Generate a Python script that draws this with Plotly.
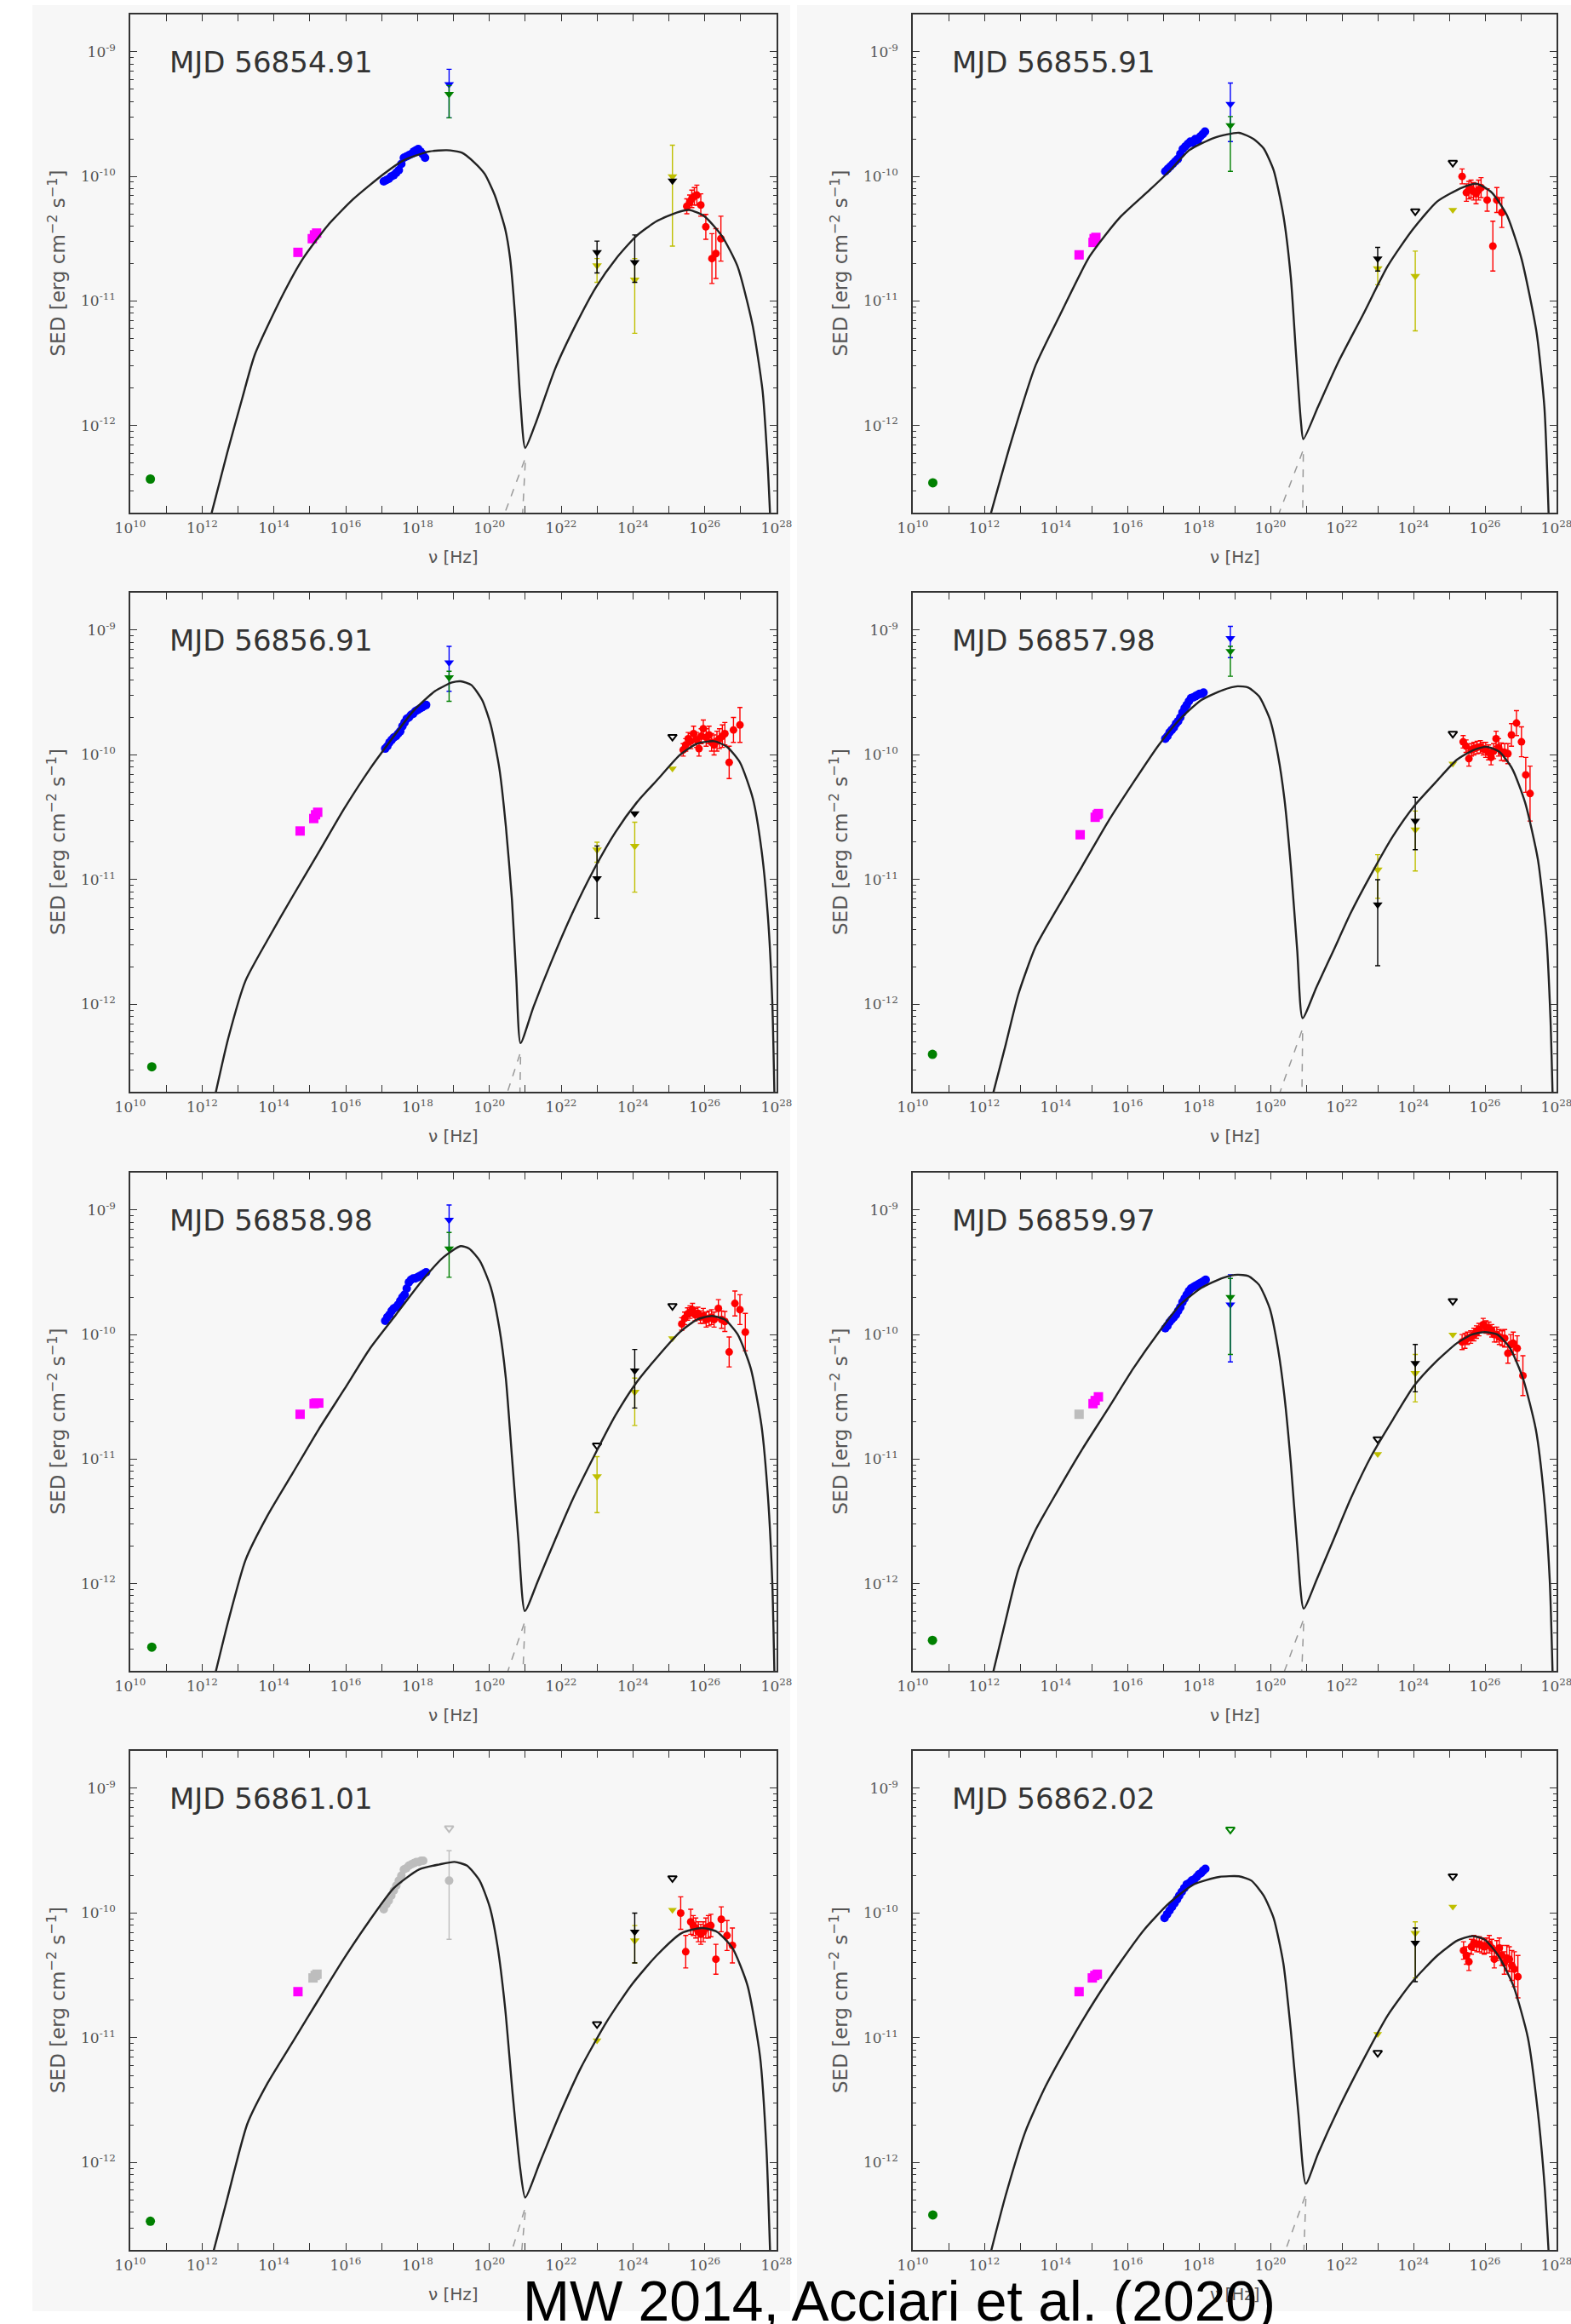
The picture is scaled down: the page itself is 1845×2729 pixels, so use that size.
import plotly.graph_objects as go

W, H = 1845, 2729

LABELS = ["MJD 56854.91", "MJD 56855.91", "MJD 56856.91", "MJD 56857.98",
          "MJD 56858.98", "MJD 56859.97", "MJD 56861.01", "MJD 56862.02"]

# ---------------- model curves (log10 nu [Hz], log10 SED) ----------------
M1_LX = [12.25, 12.70, 13.12, 13.47, 14.25, 14.81, 15.51, 16.22, 17.06, 17.62, 18.33, 18.82, 19.24, 19.59, 19.87, 20.15, 20.44, 20.58, 20.72, 20.86, 21.00, 21.28, 21.84, 22.41, 22.97, 23.53, 24.09, 24.66, 25.22, 25.57, 25.99, 26.48, 26.91, 27.33, 27.61, 27.75, 27.82]
M1_LY = [-12.72, -12.22, -11.78, -11.43, -10.95, -10.66, -10.39, -10.18, -9.98, -9.87, -9.80, -9.79, -9.81, -9.89, -9.98, -10.15, -10.42, -10.66, -11.13, -11.78, -12.18, -11.99, -11.54, -11.19, -10.89, -10.66, -10.48, -10.36, -10.29, -10.27, -10.32, -10.48, -10.72, -11.19, -11.72, -12.30, -12.72]
M2_LX = [12.17, 12.74, 13.43, 14.12, 14.95, 15.79, 16.62, 17.17, 17.73, 18.43, 19.12, 19.53, 19.81, 20.09, 20.36, 20.57, 20.71, 20.85, 20.92, 21.33, 21.90, 22.59, 23.28, 23.97, 24.67, 25.36, 25.78, 26.19, 26.61, 27.02, 27.44, 27.66, 27.78]
M2_LY = [-12.72, -12.14, -11.52, -11.11, -10.64, -10.33, -10.11, -9.96, -9.79, -9.69, -9.65, -9.70, -9.775, -9.95, -10.31, -10.81, -11.40, -11.96, -12.11, -11.85, -11.49, -11.11, -10.72, -10.43, -10.20, -10.09, -10.06, -10.13, -10.31, -10.66, -11.25, -11.85, -12.72]
M3_LX = [12.37, 12.73, 13.21, 13.81, 14.53, 15.25, 15.96, 16.68, 17.16, 17.88, 18.48, 18.96, 19.20, 19.50, 19.80, 20.04, 20.28, 20.46, 20.63, 20.75, 20.87, 21.23, 21.71, 22.31, 22.91, 23.51, 24.11, 24.71, 25.31, 25.78, 26.26, 26.62, 26.98, 27.34, 27.58, 27.76, 27.88, 27.94]
M3_LY = [-12.72, -12.27, -11.81, -11.49, -11.13, -10.78, -10.43, -10.11, -9.92, -9.65, -9.49, -9.42, -9.41, -9.44, -9.56, -9.76, -10.11, -10.57, -11.16, -11.78, -12.31, -12.02, -11.67, -11.27, -10.92, -10.62, -10.38, -10.19, -10.00, -9.91, -9.89, -9.935, -10.06, -10.35, -10.76, -11.30, -11.97, -12.72]
M4_LX = [12.24, 12.60, 12.95, 13.43, 14.02, 14.74, 15.45, 16.17, 16.88, 17.48, 18.07, 18.67, 19.08, 19.38, 19.68, 19.98, 20.21, 20.39, 20.57, 20.75, 20.90, 21.29, 21.76, 22.24, 22.83, 23.43, 24.02, 24.62, 25.21, 25.69, 26.05, 26.40, 26.76, 27.12, 27.48, 27.71, 27.83, 27.89]
M4_LY = [-12.72, -12.32, -11.92, -11.54, -11.24, -10.89, -10.54, -10.22, -9.92, -9.71, -9.56, -9.48, -9.45, -9.46, -9.53, -9.71, -10.00, -10.35, -10.89, -11.57, -12.11, -11.86, -11.57, -11.27, -10.95, -10.65, -10.41, -10.22, -10.04, -9.96, -9.935, -9.975, -10.11, -10.38, -10.84, -11.43, -12.11, -12.72]
M5_LX = [12.37, 12.73, 13.21, 13.81, 14.53, 15.25, 15.96, 16.68, 17.40, 18.12, 18.72, 19.20, 19.44, 19.74, 20.04, 20.28, 20.46, 20.63, 20.81, 20.99, 21.35, 21.83, 22.31, 22.91, 23.51, 24.11, 24.71, 25.31, 25.78, 26.20, 26.56, 26.92, 27.28, 27.58, 27.76, 27.88, 27.94]
M5_LY = [-12.72, -12.30, -11.81, -11.46, -11.11, -10.76, -10.44, -10.11, -9.84, -9.57, -9.38, -9.29, -9.31, -9.41, -9.62, -9.95, -10.35, -10.98, -11.65, -12.22, -11.98, -11.65, -11.33, -10.98, -10.65, -10.38, -10.17, -9.98, -9.88, -9.85, -9.88, -10.00, -10.27, -10.73, -11.30, -11.98, -12.72]
M6_LX = [12.24, 12.60, 12.95, 13.43, 14.02, 14.74, 15.45, 16.17, 16.88, 17.48, 18.07, 18.67, 19.08, 19.38, 19.68, 19.98, 20.21, 20.39, 20.57, 20.75, 20.93, 21.29, 21.76, 22.24, 22.83, 23.43, 24.02, 24.62, 25.21, 25.63, 25.99, 26.35, 26.70, 27.06, 27.42, 27.65, 27.81, 27.89]
M6_LY = [-12.72, -12.29, -11.89, -11.57, -11.27, -10.92, -10.60, -10.27, -9.98, -9.76, -9.625, -9.545, -9.52, -9.53, -9.60, -9.79, -10.11, -10.49, -11.03, -11.70, -12.20, -11.97, -11.65, -11.32, -10.97, -10.68, -10.41, -10.22, -10.07, -10.00, -9.98, -10.00, -10.11, -10.35, -10.76, -11.30, -11.97, -12.72]
M7_LX = [12.31, 12.70, 13.26, 13.83, 14.53, 15.23, 15.94, 16.64, 17.34, 18.05, 18.61, 19.03, 19.38, 19.73, 20.01, 20.22, 20.44, 20.65, 20.86, 21.00, 21.42, 21.98, 22.55, 23.25, 23.95, 24.66, 25.36, 25.92, 26.34, 26.77, 27.19, 27.54, 27.72, 27.82]
M7_LY = [-12.72, -12.29, -11.69, -11.36, -11.03, -10.70, -10.37, -10.07, -9.80, -9.65, -9.61, -9.59, -9.62, -9.74, -9.95, -10.25, -10.76, -11.45, -12.05, -12.28, -11.99, -11.60, -11.24, -10.88, -10.58, -10.34, -10.16, -10.12, -10.15, -10.28, -10.58, -11.15, -11.90, -12.72]
M8_LX = [12.18, 12.60, 13.15, 13.71, 14.40, 15.09, 15.79, 16.48, 17.17, 17.86, 18.57, 19.12, 19.47, 19.81, 20.09, 20.36, 20.57, 20.78, 20.99, 21.33, 21.90, 22.59, 23.28, 23.97, 24.67, 25.23, 25.64, 25.98, 26.37, 26.79, 27.20, 27.48, 27.67, 27.78]
M8_LY = [-12.72, -12.26, -11.75, -11.39, -11.03, -10.70, -10.40, -10.13, -9.92, -9.77, -9.71, -9.705, -9.74, -9.86, -10.04, -10.40, -10.94, -11.60, -12.17, -11.93, -11.57, -11.18, -10.82, -10.55, -10.34, -10.22, -10.185, -10.21, -10.34, -10.58, -11.00, -11.60, -12.20, -12.72]

# dashed component tails below the dip
DASH_IC_LX = [[20.98, 20.37], [20.90, 20.18], [20.85, 20.45], [20.88, 20.21], [20.97, 20.46], [20.91, 20.33], [20.98, 20.58], [20.97, 20.36]]
DASH_IC_LY = [[-12.28, -12.75], [-12.21, -12.75], [-12.40, -12.75], [-12.21, -12.75], [-12.32, -12.75], [-12.30, -12.75], [-12.38, -12.75], [-12.27, -12.75]]
DASH_SY_LX = [[21.00, 20.92], [20.92, 20.90], [20.87, 20.85], [20.90, 20.88], [20.99, 20.93], [20.93, 20.87], [21.00, 20.89], [20.99, 20.93]]
DASH_SY_LY = [[-12.30, -12.75], [-12.23, -12.75], [-12.42, -12.75], [-12.23, -12.75], [-12.34, -12.75], [-12.32, -12.75], [-12.40, -12.75], [-12.29, -12.75]]

# ---------------- radio ----------------
RADIO_LX = [10.56, 10.56, 10.60, 10.55, 10.60, 10.55, 10.56, 10.56]
RADIO_LY = [-12.43, -12.46, -12.50, -12.40, -12.51, -12.455, -12.47, -12.42]

# ---------------- optical / UV ----------------
OPT_LX = [[14.67, 15.07, 15.13, 15.19], [14.65, 15.04, 15.07, 15.12], [14.73, 15.11, 15.16, 15.22], [14.68, 15.10, 15.15, 15.19],
          [14.73, 15.12, 15.17, 15.25], [14.65, 15.04, 15.10, 15.19], [14.67, 15.09, 15.15, 15.20], [14.65, 15.02, 15.09, 15.16]]
OPT_LY = [[-10.61, -10.50, -10.47, -10.455], [-10.63, -10.53, -10.50, -10.49], [-10.61, -10.51, -10.48, -10.46], [-10.64, -10.50, -10.48, -10.47],
          [-10.64, -10.555, -10.55, -10.55], [-10.64, -10.555, -10.53, -10.50], [-10.63, -10.52, -10.50, -10.49], [-10.63, -10.52, -10.50, -10.49]]
OPT_GREY = [[0, 0, 0, 0], [0, 0, 0, 0], [0, 0, 0, 0], [0, 0, 0, 0], [0, 0, 0, 0], [1, 0, 0, 0], [0, 1, 1, 1], [0, 0, 0, 0]]

# ---------------- soft X-ray ----------------
XR_LX = [
    [17.06, 17.13, 17.20, 17.27, 17.34, 17.41, 17.48, 17.55, 17.62, 17.69, 17.76, 17.83, 17.90, 17.96, 18.02, 18.08, 18.14, 18.21],
    [17.06, 17.13, 17.20, 17.27, 17.34, 17.41, 17.48, 17.55, 17.62, 17.69, 17.76, 17.83, 17.90, 17.97, 18.04, 18.11, 18.17],
    [17.10, 17.16, 17.22, 17.28, 17.34, 17.40, 17.46, 17.52, 17.58, 17.64, 17.70, 17.76, 17.82, 17.88, 17.94, 18.00, 18.06, 18.12, 18.18, 18.24],
    [17.06, 17.12, 17.18, 17.24, 17.30, 17.36, 17.42, 17.48, 17.54, 17.60, 17.66, 17.72, 17.78, 17.84, 17.90, 17.96, 18.02, 18.08, 18.13],
    [17.10, 17.16, 17.22, 17.28, 17.34, 17.40, 17.46, 17.52, 17.58, 17.64, 17.70, 17.76, 17.82, 17.88, 17.94, 18.00, 18.06, 18.12, 18.18, 18.24],
    [17.06, 17.12, 17.18, 17.24, 17.30, 17.36, 17.42, 17.48, 17.54, 17.60, 17.66, 17.72, 17.78, 17.84, 17.90, 17.96, 18.02, 18.08, 18.14, 18.19],
    [17.06, 17.13, 17.20, 17.27, 17.34, 17.41, 17.48, 17.55, 17.62, 17.69, 17.76, 17.83, 17.90, 17.97, 18.04, 18.10, 18.16],
    [17.04, 17.11, 17.18, 17.25, 17.32, 17.39, 17.45, 17.52, 17.59, 17.66, 17.73, 17.80, 17.87, 17.94, 18.00, 18.06, 18.12, 18.18]]
XR_LY = [
    [-10.04, -10.03, -10.02, -10.00, -9.99, -9.97, -9.95, -9.90, -9.85, -9.84, -9.83, -9.82, -9.80, -9.79, -9.78, -9.80, -9.82, -9.85],
    [-9.96, -9.94, -9.92, -9.90, -9.88, -9.86, -9.82, -9.78, -9.76, -9.74, -9.72, -9.73, -9.70, -9.71, -9.68, -9.66, -9.64],
    [-9.95, -9.93, -9.90, -9.88, -9.86, -9.85, -9.83, -9.81, -9.77, -9.74, -9.71, -9.70, -9.68, -9.67, -9.65, -9.64, -9.63, -9.62, -9.61, -9.60],
    [-9.87, -9.85, -9.82, -9.80, -9.78, -9.75, -9.73, -9.70, -9.66, -9.625, -9.60, -9.57, -9.545, -9.54, -9.53, -9.52, -9.51, -9.51, -9.50],
    [-9.89, -9.86, -9.84, -9.81, -9.79, -9.78, -9.76, -9.73, -9.70, -9.68, -9.63, -9.58, -9.56, -9.55, -9.55, -9.54, -9.53, -9.52, -9.51, -9.50],
    [-9.95, -9.93, -9.90, -9.88, -9.86, -9.84, -9.81, -9.78, -9.74, -9.71, -9.68, -9.65, -9.63, -9.62, -9.61, -9.60, -9.59, -9.58, -9.57, -9.56],
    [-9.97, -9.93, -9.90, -9.86, -9.82, -9.78, -9.74, -9.70, -9.65, -9.64, -9.62, -9.61, -9.60, -9.59, -9.59, -9.58, -9.58],
    [-10.04, -10.01, -9.98, -9.95, -9.92, -9.89, -9.86, -9.83, -9.80, -9.77, -9.76, -9.74, -9.73, -9.71, -9.69, -9.68, -9.66, -9.645]]
XR_GREY = [0, 0, 0, 0, 0, 0, 1, 0]

# ---------------- hard X-ray (one frequency) ----------------
HX_LX = 18.88
HXB_LY = [-9.26, -9.42, -9.26, -9.065, -9.08, -9.76, -9.74, None]
HXB_HI = [-9.14, -9.25, -9.13, -8.97, -8.96, -9.52, -9.50, None]
HXB_LO = [-9.53, -9.72, -9.49, -9.22, -9.30, -10.22, -10.21, None]
HXG_LY = [-9.34, -9.59, -9.38, -9.17, -9.31, -9.70, -9.32, -9.33]
HXG_HI = [-9.27, -9.52, -9.33, -9.13, -9.18, -9.55, None, None]
HXG_LO = [-9.53, -9.96, -9.57, -9.37, -9.54, -10.16, None, None]

# ---------------- Fermi-LAT ----------------
LAT_LX = [23.0, 24.05, 25.1]
LATK_LY = [[-10.61, -10.69, -10.035], [-10.66, -10.28, -9.89], [-10.99, -10.47, -9.855], [-11.20, -10.53, -9.83],
           [-10.89, -10.29, -9.77], [-10.84, -10.23, -9.73], [-10.89, -10.15, -9.72], [-11.12, -10.24, -9.705]]
LATK_HI = [[-10.52, -10.47, None], [-10.57, None, None], [-10.73, None, None], [-11.00, -10.34, None],
           [None, -10.12, None], [None, -10.08, None], [None, -10.00, None], [None, -10.12, None]]
LATK_LO = [[-10.775, -10.85, None], [-10.76, None, None], [-11.31, None, None], [-11.69, -10.76, None],
           [None, -10.59, None], [None, -10.46, None], [None, -10.40, None], [None, -10.55, None]]
LATK_OPEN = [[0, 0, 0], [0, 1, 1], [0, 0, 1], [0, 0, 1], [1, 0, 1], [1, 0, 1], [1, 0, 1], [1, 0, 1]]
LATY_LY = [[-10.716, -10.83, -10.0], [-10.74, -10.80, -10.27], [-10.76, -10.73, -10.11], [-10.92, -10.60, -10.07],
           [-11.14, -10.46, -10.03], [-10.96, -10.31, -10.0], [-11.02, -10.22, -9.975], [-10.97, -10.16, -9.95]]
LATY_HI = [[-10.66, -10.66, -9.75], [-10.66, -10.60, None], [-10.70, -10.54, None], [-10.80, -10.45, None],
           [-10.98, -10.35, None], [None, -10.16, None], [None, -10.10, None], [None, -10.07, None]]
LATY_LO = [[-10.85, -11.26, -10.56], [-10.87, -11.24, None], [-10.86, -11.10, None], [-11.15, -10.93, None],
           [-11.43, -10.73, None], [None, -10.54, None], [None, -10.40, None], [None, -10.52, None]]

# ---------------- VHE (MAGIC) ----------------
VHE_LX = [
    [25.50, 25.58, 25.64, 25.71, 25.78, 25.89, 26.03, 26.20, 26.31, 26.45],
    [25.36, 25.48, 25.55, 25.61, 25.68, 25.75, 25.82, 25.89, 26.06, 26.22, 26.33, 26.47],
    [25.40, 25.47, 25.54, 25.61, 25.69, 25.77, 25.84, 25.90, 25.96, 26.04, 26.12, 26.19, 26.26, 26.34, 26.41, 26.49, 26.56, 26.68, 26.80, 26.98],
    [25.39, 25.47, 25.55, 25.62, 25.69, 25.78, 25.87, 25.95, 26.02, 26.10, 26.17, 26.24, 26.31, 26.38, 26.46, 26.55, 26.64, 26.74, 26.88, 27.02, 27.14, 27.26],
    [25.36, 25.44, 25.52, 25.59, 25.66, 25.73, 25.81, 25.88, 25.96, 26.04, 26.12, 26.19, 26.26, 26.38, 26.47, 26.56, 26.68, 26.84, 26.98, 27.13],
    [25.36, 25.44, 25.51, 25.60, 25.69, 25.76, 25.83, 25.95, 26.03, 26.11, 26.19, 26.26, 26.33, 26.40, 26.48, 26.55, 26.64, 26.72, 26.79, 26.90, 27.06],
    [25.33, 25.47, 25.61, 25.68, 25.75, 25.82, 25.89, 25.96, 26.03, 26.10, 26.17, 26.31, 26.46, 26.62, 26.77],
    [25.40, 25.48, 25.55, 25.62, 25.69, 25.77, 25.84, 25.91, 25.98, 26.05, 26.12, 26.19, 26.26, 26.33, 26.40, 26.47, 26.54, 26.61, 26.68, 26.75, 26.82, 26.92]]
VHE_LY = [
    [-10.24, -10.21, -10.18, -10.16, -10.15, -10.23, -10.405, -10.66, -10.62, -10.50],
    [-10.00, -10.13, -10.11, -10.10, -10.12, -10.14, -10.11, -10.09, -10.19, -10.56, -10.19, -10.29],
    [-9.96, -9.92, -9.87, -9.89, -9.83, -9.88, -9.95, -9.85, -9.79, -9.86, -9.84, -9.90, -9.92, -9.89, -9.87, -9.85, -9.83, -10.06, -9.80, -9.76],
    [-9.895, -9.93, -10.03, -9.96, -9.95, -9.94, -9.935, -9.95, -9.96, -9.98, -10.02, -9.97, -9.87, -9.94, -9.975, -9.98, -9.99, -9.84, -9.745, -9.895, -10.16, -10.31],
    [-9.915, -9.87, -9.835, -9.82, -9.80, -9.84, -9.83, -9.86, -9.85, -9.88, -9.87, -9.86, -9.88, -9.79, -9.88, -9.895, -10.14, -9.75, -9.80, -9.98],
    [-10.06, -10.05, -10.03, -10.02, -10.00, -9.98, -9.96, -9.92, -9.94, -9.95, -9.97, -10.00, -10.00, -10.02, -10.03, -10.03, -10.15, -10.08, -10.07, -10.11, -10.33],
    [-10.00, -10.31, -10.07, -10.10, -10.12, -10.15, -10.17, -10.15, -10.12, -10.11, -10.10, -10.37, -10.05, -10.18, -10.26],
    [-10.30, -10.34, -10.39, -10.27, -10.24, -10.25, -10.25, -10.26, -10.27, -10.26, -10.25, -10.28, -10.37, -10.30, -10.28, -10.34, -10.40, -10.36, -10.37, -10.42, -10.45, -10.51]]
VHE_ERR = [
    [0.06, 0.06, 0.07, 0.07, 0.08, 0.09, 0.10, 0.20, 0.20, 0.18],
    [0.06, 0.07, 0.07, 0.07, 0.07, 0.08, 0.08, 0.08, 0.09, 0.20, 0.10, 0.12],
    [0.05, 0.05, 0.05, 0.06, 0.06, 0.06, 0.06, 0.06, 0.07, 0.07, 0.07, 0.07, 0.08, 0.08, 0.08, 0.09, 0.09, 0.13, 0.10, 0.14],
    [0.05, 0.05, 0.06, 0.05, 0.05, 0.05, 0.05, 0.05, 0.06, 0.06, 0.06, 0.06, 0.06, 0.07, 0.07, 0.07, 0.08, 0.09, 0.10, 0.12, 0.14, 0.22],
    [0.05, 0.05, 0.05, 0.05, 0.05, 0.05, 0.05, 0.05, 0.06, 0.06, 0.06, 0.06, 0.06, 0.07, 0.07, 0.08, 0.12, 0.10, 0.12, 0.15],
    [0.06, 0.06, 0.05, 0.05, 0.05, 0.05, 0.05, 0.05, 0.05, 0.05, 0.05, 0.06, 0.06, 0.06, 0.06, 0.07, 0.08, 0.08, 0.09, 0.10, 0.16],
    [0.13, 0.13, 0.10, 0.08, 0.08, 0.08, 0.08, 0.08, 0.08, 0.09, 0.09, 0.12, 0.10, 0.12, 0.14],
    [0.07, 0.07, 0.07, 0.06, 0.06, 0.06, 0.06, 0.06, 0.06, 0.06, 0.07, 0.07, 0.07, 0.08, 0.08, 0.08, 0.09, 0.10, 0.10, 0.12, 0.14, 0.17]]

X_LABEL_EXP = [10, 12, 14, 16, 18, 20, 22, 24, 26, 28]
X_MINOR_EXP = [11, 13, 15, 17, 19, 21, 23, 25, 27]
Y_TICK_EXP = [-12, -11, -10, -9]
CAPTION = "MW 2014, Acciari et al. (2020)"

M_LX = [M1_LX, M2_LX, M3_LX, M4_LX, M5_LX, M6_LX, M7_LX, M8_LX]
M_LY = [M1_LY, M2_LY, M3_LY, M4_LY, M5_LY, M6_LY, M7_LY, M8_LY]

# ---------------- layout geometry (pixels) ----------------
COLS = [(153, 912), (1072, 1828)]
ROWS = [(17, 602), (696, 1282), (1377, 1962), (2056, 2642)]

BLUE, GREEN, RED, MAG, GREY, YEL, BLK = "#0000ff", "#008000", "#ff0000", "#ff00ff", "#bdbdbd", "#bfbf00", "#000000"


def lin(v):
    return [10 ** a for a in v]


fig = go.Figure()
layout_axes = {}
annotations = []
shapes = []


def add_pts(xa, ya, lx, ly, color, symbol, size, hi=None, lo=None, lw=0):
    err = None
    if hi is not None:
        err = dict(type="data", symmetric=False,
                   array=[10 ** h - 10 ** l for h, l in zip(hi, ly)],
                   arrayminus=[10 ** l - 10 ** q for l, q in zip(ly, lo)],
                   color=color, thickness=1.4, width=3)
    fig.add_trace(go.Scatter(
        x=lin(lx), y=lin(ly), xaxis=xa, yaxis=ya, mode="markers",
        marker=dict(color=color, symbol=symbol, size=size, line=dict(width=lw, color=color)),
        error_y=err, showlegend=False, hoverinfo="skip"))


minor_y = [m * 10.0 ** e for e in range(-13, -8) for m in range(2, 10)]

for i in range(8):
    r, c = divmod(i, 2)
    x0, x1 = COLS[c]
    y0, y1 = ROWS[r]
    n = "" if i == 0 else str(i + 1)
    xa, ya = "x" + n, "y" + n

    axis_common = dict(showline=True, linecolor="#333", linewidth=1.6, mirror="ticks",
                       ticks="inside", ticklen=8, tickwidth=1, tickcolor="#333",
                       showgrid=False, zeroline=False, type="log", automargin=False,
                       ticklabeloverflow="allow",
                       tickfont=dict(family="DejaVu Serif", size=17, color="#555"))
    layout_axes["xaxis" + n] = dict(
        axis_common, domain=[x0 / W, x1 / W], anchor=ya, range=[10, 28],
        tickmode="array", tickvals=[10.0 ** k for k in X_LABEL_EXP],
        ticktext=["10<sup>%d</sup>" % k for k in X_LABEL_EXP],
        ticklabelstandoff=2,
        minor=dict(tickmode="array", tickvals=[10.0 ** k for k in X_MINOR_EXP], ticks="inside",
                   ticklen=8, tickcolor="#333", showgrid=False))
    layout_axes["yaxis" + n] = dict(
        axis_common, domain=[1 - y1 / H, 1 - y0 / H], anchor=xa, range=[-12.7, -8.7],
        tickmode="array", tickvals=[10.0 ** k for k in Y_TICK_EXP],
        ticktext=["10<sup>%d</sup>" % k for k in Y_TICK_EXP],
        ticklabelstandoff=12,
        minor=dict(tickmode="array", tickvals=minor_y, ticks="inside", ticklen=4,
                   tickcolor="#333", showgrid=False))

    # dashed components
    for dx, dy in ((DASH_IC_LX[i], DASH_IC_LY[i]), (DASH_SY_LX[i], DASH_SY_LY[i])):
        fig.add_trace(go.Scatter(x=lin(dx), y=lin(dy), xaxis=xa, yaxis=ya, mode="lines",
                                 line=dict(color="#999", width=1.5, dash="dash"),
                                 showlegend=False, hoverinfo="skip"))

    # radio
    add_pts(xa, ya, [RADIO_LX[i]], [RADIO_LY[i]], GREEN, "circle", 11)

    # optical / UV
    og = [(lx, ly) for lx, ly, g in zip(OPT_LX[i], OPT_LY[i], OPT_GREY[i]) if g]
    om = [(lx, ly) for lx, ly, g in zip(OPT_LX[i], OPT_LY[i], OPT_GREY[i]) if not g]
    if om:
        add_pts(xa, ya, [p[0] for p in om], [p[1] for p in om], MAG, "square", 11)
    if og:
        add_pts(xa, ya, [p[0] for p in og], [p[1] for p in og], GREY, "square", 11)

    # soft X-ray
    add_pts(xa, ya, XR_LX[i], XR_LY[i], GREY if XR_GREY[i] else BLUE, "circle", 10)

    # hard X-ray
    hx_blue_col = GREY if i == 6 else BLUE
    hx_green_col = GREY if i == 6 else GREEN
    if HXB_LY[i] is not None:
        add_pts(xa, ya, [HX_LX], [HXB_LY[i]], hx_blue_col,
                "circle" if i == 6 else "triangle-down", 10,
                [HXB_HI[i]], [HXB_LO[i]])
    if HXG_LY[i] is not None:
        if HXG_HI[i] is None:
            add_pts(xa, ya, [HX_LX], [HXG_LY[i]], hx_green_col, "triangle-down-open", 9, lw=2)
        else:
            add_pts(xa, ya, [HX_LX], [HXG_LY[i]], hx_green_col, "triangle-down", 10,
                    [HXG_HI[i]], [HXG_LO[i]])

    # Fermi-LAT yellow
    for j in range(3):
        if LATY_HI[i][j] is None:
            add_pts(xa, ya, [LAT_LX[j]], [LATY_LY[i][j]], YEL, "triangle-down", 9)
        else:
            add_pts(xa, ya, [LAT_LX[j]], [LATY_LY[i][j]], YEL, "triangle-down", 10,
                    [LATY_HI[i][j]], [LATY_LO[i][j]])
    # Fermi-LAT black
    for j in range(3):
        if LATK_OPEN[i][j]:
            add_pts(xa, ya, [LAT_LX[j]], [LATK_LY[i][j]], BLK, "triangle-down-open", 9, lw=2)
        elif LATK_HI[i][j] is None:
            add_pts(xa, ya, [LAT_LX[j]], [LATK_LY[i][j]], BLK, "triangle-down", 10)
        else:
            add_pts(xa, ya, [LAT_LX[j]], [LATK_LY[i][j]], BLK, "triangle-down", 10,
                    [LATK_HI[i][j]], [LATK_LO[i][j]])

    # VHE
    hi = [l + e for l, e in zip(VHE_LY[i], VHE_ERR[i])]
    lo = [l - e for l, e in zip(VHE_LY[i], VHE_ERR[i])]
    add_pts(xa, ya, VHE_LX[i], VHE_LY[i], RED, "circle", 9, hi, lo)

    # model line
    fig.add_trace(go.Scatter(x=lin(M_LX[i]), y=lin(M_LY[i]), xaxis=xa, yaxis=ya, mode="lines",
                             line=dict(color="#222", width=2.4, shape="spline", smoothing=0.6),
                             showlegend=False, hoverinfo="skip"))

    # texts
    annotations.append(dict(text=LABELS[i], xref="paper", yref="paper",
                            x=(x0 + 44) / W, y=1 - (y0 + 56) / H, xanchor="left", yanchor="middle",
                            showarrow=False, font=dict(family="DejaVu Sans", size=34, color="#333")))
    annotations.append(dict(text="ν [Hz]", xref="paper", yref="paper",
                            x=(x0 + x1) / 2 / W, y=1 - (y1 + 52) / H, xanchor="center", yanchor="middle",
                            showarrow=False, font=dict(family="DejaVu Sans", size=20, color="#555")))
    annotations.append(dict(text="SED [erg cm<sup>−2</sup> s<sup>−1</sup>]", xref="paper", yref="paper",
                            x=(x0 - 87) / W, y=1 - (y0 + y1) / 2 / H, xanchor="center", yanchor="middle",
                            textangle=-90, showarrow=False,
                            font=dict(family="DejaVu Sans", size=23, color="#555")))

# panel image backgrounds
shapes.append(dict(type="rect", xref="paper", yref="paper", x0=38 / W, x1=928 / W,
                   y0=1 - 2714 / H, y1=1 - 6 / H, fillcolor="#f7f7f7", line=dict(width=0), layer="below"))
shapes.append(dict(type="rect", xref="paper", yref="paper", x0=936 / W, x1=1.0,
                   y0=1 - 2714 / H, y1=1 - 6 / H, fillcolor="#f7f7f7", line=dict(width=0), layer="below"))

annotations.append(dict(text=CAPTION, xref="paper", yref="paper", x=1056 / W, y=1 - 2702 / H,
                        xanchor="center", yanchor="middle", showarrow=False,
                        font=dict(family="Liberation Sans", size=66, color="#000")))

fig.update_layout(width=W, height=H, margin=dict(l=0, r=0, t=0, b=0),
                  paper_bgcolor="white", plot_bgcolor="rgba(0,0,0,0)",
                  showlegend=False, annotations=annotations, shapes=shapes, **layout_axes)

fig.write_html("out.html")
